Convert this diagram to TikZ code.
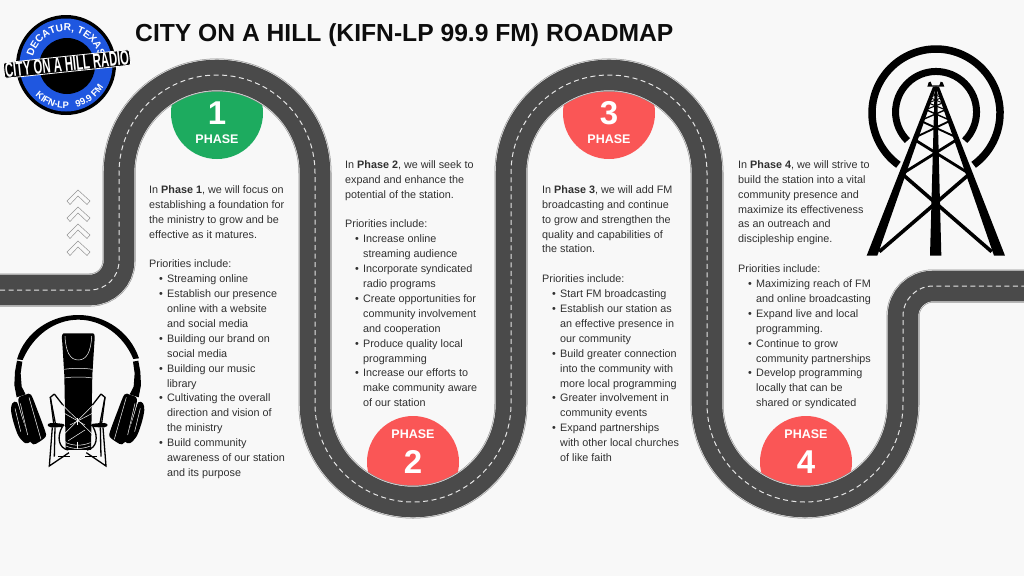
\documentclass[tikz,border=0pt]{standalone}
\usepackage{fontspec}
\setmainfont{Liberation Sans}
\newfontfamily\bannerfont[FakeStretch=0.55]{Liberation Sans Bold}
\usetikzlibrary{decorations.text}
\definecolor{bgc}{HTML}{F8F8F8}
\definecolor{roadc}{HTML}{4A4A4A}
\definecolor{edgec}{HTML}{8C8C8C}
\definecolor{grn}{HTML}{1DAB5F}
\definecolor{rd}{HTML}{FA5656}
\definecolor{blu}{HTML}{1F57E0}
\definecolor{bodyc}{HTML}{303030}
\newcommand\bl[1]{\hspace*{10pt}\makebox[8pt][l]{•}#1}
\newcommand\cl[1]{\hspace*{18pt}#1}
\tikzset{
  bodytext/.style={anchor=north west,inner sep=0pt,align=left,text=bodyc,font=\fontsize{10.8}{14.9}\selectfont},
  phasedisc/.style={circle,minimum size=92pt,inner sep=0pt},
  phaseword/.style={text=white,inner sep=0pt,font=\bfseries\fontsize{12.5}{13}\selectfont},
  phasenum/.style={text=white,inner sep=0pt,font=\bfseries\fontsize{33}{33}\selectfont},
  ic/.style={fill=black,draw=none},
  wl/.style={draw=bgc,line width=0.5pt},
  mk/.style={draw=black,line width=1.3pt},
  cv/.style={draw=gray!85,line width=0.5pt,fill=none}
}
\newcommand\roadpath{(0,290) -- (90,290) arc[start angle=-90,end angle=0,radius=29pt] -- (119,173) arc[start angle=180,end angle=0,radius=98pt] -- (315,404) arc[start angle=180,end angle=360,radius=98pt] -- (511,173) arc[start angle=180,end angle=0,radius=98pt] -- (707,404) arc[start angle=180,end angle=360,radius=98pt] -- (903,316) arc[start angle=180,end angle=90,radius=30pt] -- (1024,286)}
\newcommand\earside{%
  \fill[black] (36,152) -- (52,155) -- (47,190) -- (50,230) -- (62,253) -- (35,262) -- (28,225) -- (30,185) -- cycle;
  \draw[wl] (55,180) .. controls (52,210) and (54,235) .. (62,250);
  \fill[black] plot[smooth cycle] coordinates {(22,280) (36,277) (50,320) (68,375) (76,395) (60,399) (40,377) (25,335) (18,300)};
  \fill[black] plot[smooth cycle] coordinates {(40,268) (62,254) (78,254) (97,300) (120,362) (122,380) (102,396) (85,403) (70,385) (55,330)};
  \draw[wl] (30,295) -- (47,365);
  \draw[wl] (46,280) -- (68,375);
  \draw[wl] (72,262) -- (108,388);
  \draw[mk] (148,252) -- (136,262) -- (146,340);
  \draw[mk] (136,262) -- (152,345);
  \draw[mk] (148,252) -- (176,288);
  \fill[black] plot[smooth cycle] coordinates {(128,345) (138,339) (175,342) (175,350) (138,352)};
  \draw[mk] (142,352) -- (133,468) -- (192,428);
  \draw[mk] (150,352) -- (148,440);
  \draw[mk] (172,350) .. controls (155,380) and (160,415) .. (190,420);
  \draw[mk] (160,440) -- (195,440);
}
\begin{document}
\begin{tikzpicture}[x=1pt,y=-1pt]
\useasboundingbox[fill=bgc] (0,0) rectangle (1024,576);
% phase discs
\node[phasedisc,fill=grn] (d1) at (217,113) {};
\node[phasedisc,fill=rd] (d2) at (413,462) {};
\node[phasedisc,fill=rd] (d3) at (609,113) {};
\node[phasedisc,fill=rd] (d4) at (806,462) {};
% road
\draw[edgec,line width=33pt] \roadpath;
\draw[gray!20,line width=32pt] \roadpath;
\draw[roadc,line width=30.6pt] \roadpath;
\draw[white!90!black,line width=1pt,dash pattern=on 5pt off 3.5pt] \roadpath;
% disc labels
\node[phasenum] (n1) at (217,113) {1};
\node[phaseword] (w1) at (217,139.5) {PHASE};
\node[phaseword] (w2) at (413,434.5) {PHASE};
\node[phasenum] (n2) at (413,462) {2};
\node[phasenum] (n3) at (609,113) {3};
\node[phaseword] (w3) at (609,139.5) {PHASE};
\node[phaseword] (w4) at (806,434.5) {PHASE};
\node[phasenum] (n4) at (806,462) {4};
% title
\node[inner sep=0pt,anchor=west,text=black!95,font=\bfseries\fontsize{24.65}{26}\selectfont] (title) at (135,35.5) {CITY ON A HILL (KIFN-LP 99.9 FM) ROADMAP};
% chevrons
\foreach \yy in {190,207,224,241}
  \draw[cv] (78,\yy) -- (90,\yy+11) -- (87,\yy+14.5) -- (78,\yy+6) -- (70,\yy+14.5) -- (67,\yy+11) -- cycle;
% text blocks
\node[bodytext] (t1) at (149,185.3) {In \textbf{Phase 1}, we will focus on\\
establishing a foundation for\\
the ministry to grow and be\\
effective as it matures.\\
\mbox{}\\
Priorities include:\\
\bl{Streaming online}\\
\bl{Establish our presence}\\
\cl{online with a website}\\
\cl{and social media}\\
\bl{Building our brand on}\\
\cl{social media}\\
\bl{Building our music}\\
\cl{library}\\
\bl{Cultivating the overall}\\
\cl{direction and vision of}\\
\cl{the ministry}\\
\bl{Build community}\\
\cl{awareness of our station}\\
\cl{and its purpose}};
\node[bodytext] (t2) at (345,160.3) {In \textbf{Phase 2}, we will seek to\\
expand and enhance the\\
potential of the station.\\
\mbox{}\\
Priorities include:\\
\bl{Increase online}\\
\cl{streaming audience}\\
\bl{Incorporate syndicated}\\
\cl{radio programs}\\
\bl{Create opportunities for}\\
\cl{community involvement}\\
\cl{and cooperation}\\
\bl{Produce quality local}\\
\cl{programming}\\
\bl{Increase our efforts to}\\
\cl{make community aware}\\
\cl{of our station}};
\node[bodytext] (t3) at (542,185.3) {In \textbf{Phase 3}, we will add FM\\
broadcasting and continue\\
to grow and strengthen the\\
quality and capabilities of\\
the station.\\
\mbox{}\\
Priorities include:\\
\bl{Start FM broadcasting}\\
\bl{Establish our station as}\\
\cl{an effective presence in}\\
\cl{our community}\\
\bl{Build greater connection}\\
\cl{into the community with}\\
\cl{more local programming}\\
\bl{Greater involvement in}\\
\cl{community events}\\
\bl{Expand partnerships}\\
\cl{with other local churches}\\
\cl{of like faith}};
\node[bodytext] (t4) at (738,160.3) {In \textbf{Phase 4}, we will strive to\\
build the station into a vital\\
community presence and\\
maximize its effectiveness\\
as an outreach and\\
discipleship engine.\\
\mbox{}\\
Priorities include:\\
\bl{Maximizing reach of FM}\\
\cl{and online broadcasting}\\
\bl{Expand live and local}\\
\cl{programming.}\\
\bl{Continue to grow}\\
\cl{community partnerships}\\
\bl{Develop programming}\\
\cl{locally that can be}\\
\cl{shared or syndicated}};
% logo
\fill[black] (66,65) circle (50pt);
\fill[blu] (66,65) circle (46.5pt);
\fill[black] (67,66) circle (28pt);
\path[postaction={decorate,decoration={text along path,text align=center,text color=white,
  text={|\bfseries\fontsize{10.2}{11}\selectfont|DECATUR, TEXAS}}}]
  (32.2,63) arc[start angle=177,end angle=3,radius=33.8pt];
\path[postaction={decorate,decoration={text along path,text align=center,text color=white,
  text={|\bfseries\fontsize{9.4}{10}\selectfont|KIFN-LP{ }{ }{ }99.9 FM}}}]
  (23,71) arc[start angle=188,end angle=366,radius=43.5pt];
\node[rotate=6,fill=black,draw=white,line width=0.8pt,rounded corners=2pt,inner xsep=1pt,inner ysep=0.5pt,text=white,font=\bannerfont\fontsize{20.5}{20.5}\selectfont] (banner) at (67,64) {CITY ON A HILL RADIO};
% tower
\draw[black,line width=7.5pt] (898.4,164.8) arc[start angle=234,end angle=-54,radius=64pt];
\draw[black,line width=7pt] (907.4,140.6) arc[start angle=225,end angle=-45,radius=40.5pt];
\begin{scope}[shift={(840,30)},x=0.3333pt,y=-0.3333pt]
\fill[ic] (279,170) -- (289,170) -- (112,677) -- (80,677) -- cycle;
\fill[ic] (287,170) -- (297,170) -- (495,677) -- (462,677) -- cycle;
\fill[ic] (284,170) -- (291,170) -- (304,677) -- (270,677) -- cycle;
\draw[black,line width=3.6pt] (118,665) -- (385,435);
\draw[black,line width=3.6pt] (455,665) -- (190,435);
\draw[black,line width=2.8pt] (192,428) -- (352,328);
\draw[black,line width=2.8pt] (383,428) -- (222,328);
\draw[black,line width=1.9pt] (226,322) -- (325,275);
\draw[black,line width=1.9pt] (349,322) -- (247,275);
\draw[black,line width=1.4pt] (245,270) -- (315,240);
\draw[black,line width=1.4pt] (328,270) -- (260,240);
\draw[black,line width=1.1pt] (260,238) -- (305,220);
\draw[black,line width=1.1pt] (313,238) -- (268,220);
\draw[black,line width=0.9pt] (270,217) -- (300,205);
\draw[black,line width=0.9pt] (303,217) -- (275,205);
\draw[black,line width=0.8pt] (275,200) -- (298,190);
\draw[black,line width=0.8pt] (298,200) -- (277,190);
\fill[ic] (262,170) -- (266,157) -- (272,155) -- (276,166) -- (298,166) -- (302,155) -- (308,157) -- (313,170) -- cycle;
\end{scope}
% microphone
\begin{scope}[shift={(5,310)},x=0.3333pt,y=-0.3333pt]
\fill[black] (36,148) .. controls (60,65) and (140,15) .. (220,15) .. controls (300,15) and (375,65) .. (402,145) -- (385,147) .. controls (355,75) and (290,29) .. (220,29) .. controls (150,29) and (85,75) .. (53,150) -- cycle;
\earside
\begin{scope}[shift={(436,0)},xscale=-1]
\earside
\end{scope}
\fill[black] (176,70) -- (264,70) .. controls (270,72) and (270,80) .. (268,100) -- (262,195) -- (258,420) -- (182,420) -- (178,195) -- (172,100) .. controls (170,80) and (170,72) .. (176,70) -- cycle;
\draw[wl] (180,78) .. controls (182,125) and (195,150) .. (220,150) .. controls (245,150) and (258,125) .. (260,78);
\draw[wl] (178,178) .. controls (200,174) and (240,174) .. (262,178);
\draw[wl] (178,204) .. controls (200,200) and (240,200) .. (262,204);
\draw[wl] (172,285) -- (262,372);
\draw[wl] (265,285) -- (178,372);
\draw[wl] (195,345) -- (262,310);
\draw[wl] (240,345) -- (178,310);
\draw[wl] (183,398) .. controls (205,408) and (232,408) .. (256,398);
\draw[wl] (183,408) .. controls (205,418) and (232,418) .. (256,408);
\draw[wl] (217,325) -- (217,345);
\draw[wl] (217,395) -- (217,418);
\draw[wl] (190,392) -- (240,360);
\end{scope}
\end{tikzpicture}
\end{document}
